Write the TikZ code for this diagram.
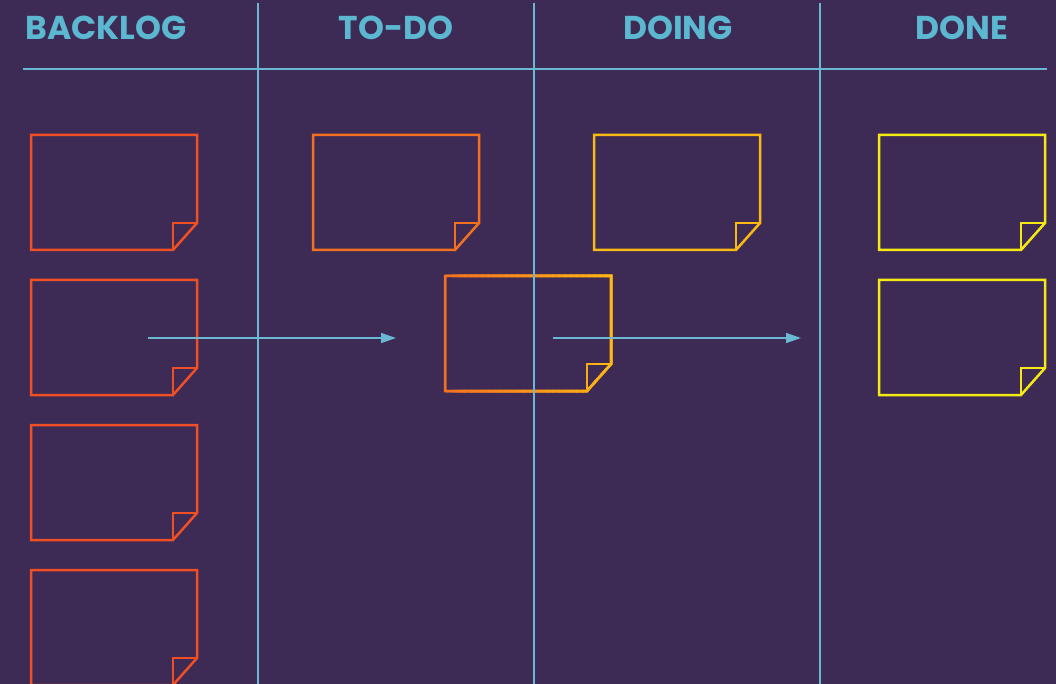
\documentclass[tikz,border=0pt]{standalone}
\usepackage{fontspec}
\newfontfamily\headfont{Poppins}
\usetikzlibrary{arrows.meta,positioning}

\definecolor{boardbg}{RGB}{61,43,86}
\definecolor{gridblue}{RGB}{106,184,210}
\definecolor{headblue}{RGB}{92,184,208}
\definecolor{backlogc}{RGB}{240,78,35}
\definecolor{todoc}{RGB}{243,112,33}
\definecolor{doingc}{RGB}{253,185,19}
\definecolor{donec}{RGB}{245,233,20}

% outline of a sticky note with a folded corner, drawn round a named node
\newcommand{\drawnote}[2]{%
  \draw[notepen,#1] (#2.north west) -- (#2.north east)
    -- ([yshift=27pt]#2.south east) -- ([xshift=-24pt]#2.south east)
    -- (#2.south west) -- cycle;
  \draw[notepen,#1] ([xshift=-24pt]#2.south east)
    -- ([xshift=-24pt,yshift=27pt]#2.south east) -- ([yshift=27pt]#2.south east);
}

\begin{document}
\begin{tikzpicture}[
   x=1pt,y=-1pt,
   note/.style={rectangle,minimum width=166pt,minimum height=115pt,inner sep=0pt,outer sep=0pt},
   notepen/.style={line width=2.5pt,line join=miter},
   head/.style={font=\headfont\bfseries\fontsize{33}{33}\selectfont,text=headblue,anchor=base,inner sep=0pt},
   grid/.style={gridblue,line width=1.1pt},
   flow/.style={gridblue,line width=1.4pt,-{Triangle[length=15pt,width=10pt]}}
]
\useasboundingbox (0,0) rectangle (1056,684);
\fill[boardbg] (0,0) rectangle (1056,684);
\clip (0,0) rectangle (1056,684);

% headers
\node[head] (hbacklog) at (106,40) {BACKLOG};
\node[head] (htodo) at (396,40) {TO-DO};
\node[head] (hdoing) at (678,40) {DOING};
\node[head] (hdone) at (962,40) {DONE};

% notes
\node[note] (b1) at (114,192.5) {};
\node[note,below=30pt of b1] (b2) {};
\node[note,below=30pt of b2] (b3) {};
\node[note,below=30pt of b3] (b4) {};
\node[note] (t1) at (396,192.5) {};
\node[note] (d1) at (677,192.5) {};
\node[note] (f1) at (962,192.5) {};
\node[note,below=30pt of f1] (f2) {};
\node[note] (mid) at (528,333.5) {};

\drawnote{backlogc}{b1}
\drawnote{backlogc}{b2}
\drawnote{backlogc}{b3}
\drawnote{backlogc}{b4}
\drawnote{todoc}{t1}
\drawnote{doingc}{d1}
\drawnote{donec}{f1}
\drawnote{donec}{f2}

% note on the move: orange to amber, slice by slice
\drawnote{todoc}{mid}
\foreach \i in {1,...,29}{
  \pgfmathsetmacro\pct{100*\i/29}
  \colorlet{slicec}{doingc!\pct!todoc}
  \begin{scope}
    \clip (440+\i*5.9,260) rectangle (460+\i*5.9,410);
    \drawnote{slicec}{mid}
  \end{scope}
}

% board lines
\draw[grid] (23,69) -- (1047,69);
\draw[grid] (258,3) -- (258,684);
\draw[grid] (534,3) -- (534,684);
\draw[grid] (820,3) -- (820,684);

% moves
\coordinate (m1s) at (148,338);
\coordinate (m1e) at (396,338);
\coordinate (m2s) at (553,338);
\coordinate (m2e) at (801,338);
\draw[flow] (m1s) -- (m1e);
\draw[flow] (m2s) -- (m2e);
\end{tikzpicture}
\end{document}
